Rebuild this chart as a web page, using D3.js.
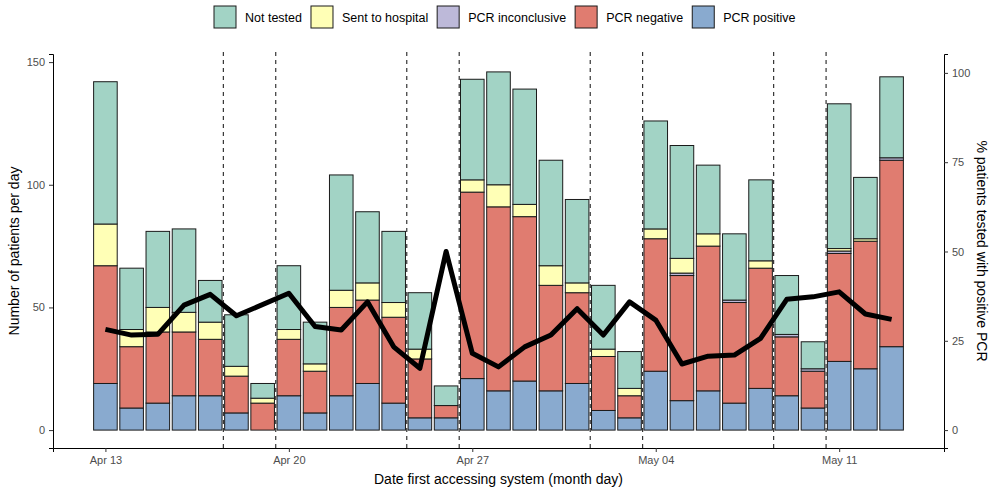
<!DOCTYPE html>
<html>
<head>
<meta charset="utf-8">
<script src="https://cdn.jsdelivr.net/npm/d3@7"></script>
<style>
  body { margin: 0; background: #fff; }
  svg { font-family: "Liberation Sans", Arial, Helvetica, sans-serif; }
</style>
</head>
<body>
<div id="chart"></div>
<script>
// days (categories)
var days = ["2020-04-13","2020-04-14","2020-04-15","2020-04-16","2020-04-17","2020-04-18","2020-04-19",
	"2020-04-20","2020-04-21","2020-04-22","2020-04-23","2020-04-24","2020-04-25","2020-04-26",
	"2020-04-27","2020-04-28","2020-04-29","2020-04-30","2020-05-01","2020-05-02","2020-05-03",
	"2020-05-04","2020-05-05","2020-05-06","2020-05-07","2020-05-08","2020-05-09","2020-05-10",
	"2020-05-11","2020-05-12","2020-05-13"];

// stacked series, bottom to top
var pcrPositive     = [19,9,11,14,14,7,0,14,7,14,19,11,5,5,21,16,20,16,19,8,5,24,12,16,11,17,14,9,28,25,34];
var pcrNegative     = [48,25,29,26,23,15,11,23,17,36,34,35,24,5,76,75,67,43,37,22,9,54,51,59,41,49,24,15,44,52,76];
var pcrInconclusive = [0,0,0,0,0,0,0,0,0,0,0,0,0,0,0,0,0,0,0,0,0,0,1,0,1,0,1,1,1,0,1];
var sentToHospital  = [17,7,10,8,7,4,2,4,3,7,7,6,4,0,5,9,5,8,4,3,3,4,6,5,0,3,0,0,1,1,0];
var notTested       = [58,25,31,34,17,21,6,26,17,47,29,29,23,8,41,46,47,43,34,26,15,44,46,28,27,33,24,11,59,25,33];

// % of tested patients with positive PCR (right axis), null = not drawn
var pctPositive = [28.2,26.6,26.8,35,38,32,null,38.3,29,28,35.9,23.3,17.3,50,21.5,17.7,23.3,26.6,34,26.6,35.9,
	30.8,18.5,20.7,21,25.7,36.6,37.3,38.7,32.5,31];

// weekend boundaries (dashed lines)
var weekendLines = ["2020-04-17T12","2020-04-19T12","2020-04-24T12","2020-04-26T12",
	"2020-05-01T12","2020-05-03T12","2020-05-08T12","2020-05-10T12"];

var xTicks = ["2020-04-13","2020-04-20","2020-04-27","2020-05-04","2020-05-11"];
var leftTicks = [0,50,100,150];
var rightTicks = [0,25,50,75,100];

var seriesNames = ["PCR positive","PCR negative","PCR inconclusive","Sent to hospital","Not tested"];
var seriesData = [pcrPositive, pcrNegative, pcrInconclusive, sentToHospital, notTested];
var seriesColors = ["#89aacf","#e07c70","#bdb9d9","#ffffb6","#a2d3c5"];
var legendOrder = ["Not tested","Sent to hospital","PCR inconclusive","PCR negative","PCR positive"];

var W = 997, H = 487;
var parseDay = d3.timeParse("%Y-%m-%d"),
	parseHour = d3.timeParse("%Y-%m-%dT%H");

var svg = d3.select("#chart").append("svg")
	.attr("width", W)
	.attr("height", H);
svg.append("rect").attr("width", W).attr("height", H).attr("fill", "#fff");

var panel = {left: 53, right: 944, top: 54, bottom: 448};

var x = d3.scaleTime()
	.domain([parseDay("2020-04-11"), parseDay("2020-05-15")])
	.range([panel.left, panel.right]);
var y = d3.scaleLinear().domain([-7.3, 153.3]).range([panel.bottom, panel.top]);
var y2 = d3.scaleLinear().domain([-7.3/1.456, 153.3/1.456]).range([panel.bottom, panel.top]);

var dayWidth = x(parseDay("2020-04-14")) - x(parseDay("2020-04-13"));
var barW = dayWidth * 0.9;

// build table for stacking
var table = days.map(function(d, i) {
	var row = {date: parseDay(d)};
	seriesNames.forEach(function(s, k) { row[s] = seriesData[k][i]; });
	return row;
});
var stacked = d3.stack().keys(seriesNames)(table);

var bars = svg.append("g");
stacked.forEach(function(layer, k) {
	bars.selectAll(".b" + k)
		.data(layer.filter(function(d) { return d[1] - d[0] > 0; }))
		.enter().append("rect")
		.attr("x", function(d) { return x(d.data.date) - barW/2; })
		.attr("y", function(d) { return y(d[1]); })
		.attr("width", barW)
		.attr("height", function(d) { return y(d[0]) - y(d[1]); })
		.attr("fill", seriesColors[k])
		.attr("stroke", "#1a1a1a")
		.attr("stroke-width", 1);
});

// weekend dashed lines
svg.append("g").selectAll("line")
	.data(weekendLines)
	.enter().append("line")
	.attr("x1", function(d) { return x(parseHour(d)); })
	.attr("x2", function(d) { return x(parseHour(d)); })
	.attr("y1", panel.top - 2)
	.attr("y2", panel.bottom)
	.attr("stroke", "#222")
	.attr("stroke-width", 1.1)
	.attr("stroke-dasharray", "4,4");

// positive % line
var linePts = days.map(function(d, i) { return {date: parseDay(d), v: pctPositive[i]}; })
	.filter(function(d) { return d.v !== null; });
svg.append("path")
	.datum(linePts)
	.attr("fill", "none")
	.attr("stroke", "#000")
	.attr("stroke-width", 5)
	.attr("stroke-linejoin", "round")
	.attr("d", d3.line().x(function(d) { return x(d.date); }).y(function(d) { return y2(d.v); }));

// axes
var axisColor = "#000", tickTextColor = "#4d4d4d";
function styleAxis(g) {
	g.select(".domain").attr("stroke", axisColor).attr("stroke-width", 1);
	g.selectAll(".tick line").attr("stroke", "#333");
	g.selectAll(".tick text").attr("fill", tickTextColor).style("font-size", "11px");
}

var gx = svg.append("g")
	.attr("transform", "translate(0," + panel.bottom + ")")
	.call(d3.axisBottom(x)
		.tickValues(xTicks.map(parseDay))
		.tickFormat(d3.timeFormat("%b %d"))
		.tickSizeOuter(0).tickSize(4).tickPadding(4));
styleAxis(gx);

var gy = svg.append("g")
	.attr("transform", "translate(" + panel.left + ",0)")
	.call(d3.axisLeft(y).tickValues(leftTicks).tickSizeOuter(0).tickSize(4).tickPadding(4));
styleAxis(gy);

var gy2 = svg.append("g")
	.attr("transform", "translate(" + panel.right + ",0)")
	.call(d3.axisRight(y2).tickValues(rightTicks).tickSizeOuter(0).tickSize(4).tickPadding(4));
styleAxis(gy2);

// axis titles
svg.append("text")
	.attr("x", (panel.left + panel.right)/2)
	.attr("y", 484)
	.attr("text-anchor", "middle")
	.style("font-size", "14px")
	.text("Date first accessing system (month day)");

svg.append("text")
	.attr("transform", "translate(19," + (panel.top + panel.bottom)/2 + ") rotate(-90)")
	.attr("text-anchor", "middle")
	.style("font-size", "14px")
	.text("Number of patients per day");

svg.append("text")
	.attr("transform", "translate(977," + (panel.top + panel.bottom)/2 + ") rotate(90)")
	.attr("text-anchor", "middle")
	.style("font-size", "14px")
	.text("% patients tested with positive PCR");

// legend
var legend = svg.append("g");
var lx = 214;
legendOrder.forEach(function(name) {
	var k = seriesNames.indexOf(name);
	legend.append("rect")
		.attr("x", lx).attr("y", 6)
		.attr("width", 22).attr("height", 22)
		.attr("fill", seriesColors[k])
		.attr("stroke", "#1a1a1a")
		.attr("stroke-width", 1);
	var t = legend.append("text")
		.attr("x", lx + 31).attr("y", 21.5)
		.style("font-size", "12.5px")
		.text(name);
	lx += 31 + t.node().getComputedTextLength() + 9;
});
</script>
</body>
</html>
